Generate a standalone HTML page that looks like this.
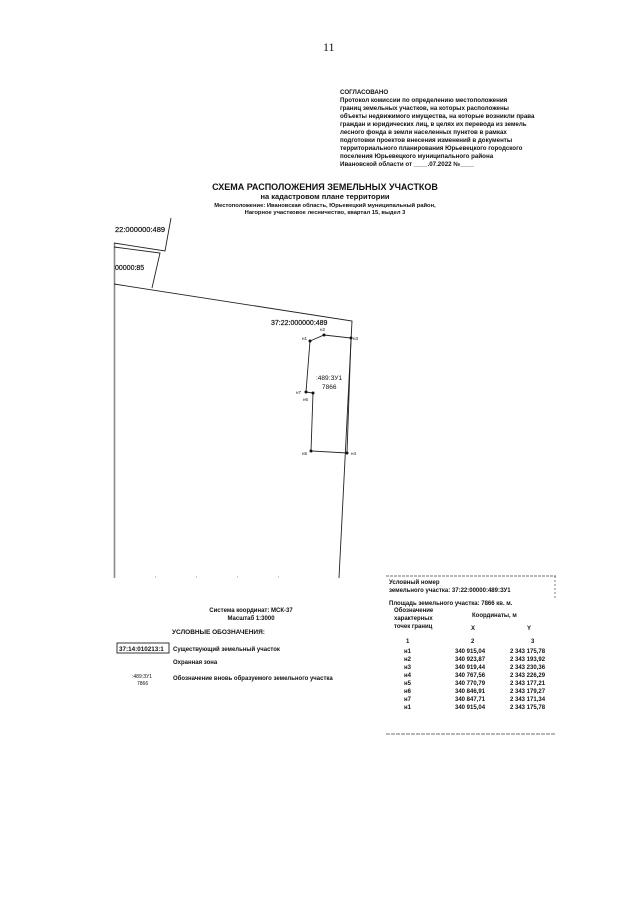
<!DOCTYPE html>
<html><head><meta charset="utf-8"><style>
html,body{margin:0;padding:0;background:#fff;}
svg{display:block}
text{font-family:"Liberation Sans",sans-serif;fill:#111}
</style></head><body>
<svg width="640" height="905" viewBox="0 0 640 905" xmlns="http://www.w3.org/2000/svg">
<text x="323" y="51" style="font-family:'Liberation Serif',serif" font-size="12">11</text>
<g font-size="6.2" font-weight="bold">
<text x="340" y="94">СОГЛАСОВАНО</text>
<text x="340" y="102">Протокол комиссии по определению местоположения</text>
<text x="340" y="110">границ земельных участков, на которых расположены</text>
<text x="340" y="118">объекты недвижимого имущества, на которые возникли права</text>
<text x="340" y="126">граждан и юридических лиц, в целях их перевода из земель</text>
<text x="340" y="134">лесного фонда в земли населенных пунктов в рамках</text>
<text x="340" y="142">подготовки проектов внесения изменений в документы</text>
<text x="340" y="150">территориального планирования Юрьевецкого городского</text>
<text x="340" y="158">поселения Юрьевецкого муниципального района</text>
<text x="340" y="166">Ивановской области от ____.07.2022 №____</text>
</g>
<text x="325" y="190" font-size="9" font-weight="bold" text-anchor="middle">СХЕМА РАСПОЛОЖЕНИЯ ЗЕМЕЛЬНЫХ УЧАСТКОВ</text>
<text x="325" y="199" font-size="7.5" font-weight="bold" text-anchor="middle">на кадастровом плане территории</text>
<text x="325" y="207" font-size="5.8" font-weight="bold" text-anchor="middle">Местоположение: Ивановская область, Юрьевецкий муниципальный район,</text>
<text x="325" y="214" font-size="5.8" font-weight="bold" text-anchor="middle">Нагорное участковое лесничество, квартал 15, выдел 3</text>

<g stroke="#222" fill="none" stroke-width="0.9">
<line x1="114.5" y1="243" x2="114.5" y2="578" stroke="#888" stroke-width="1.6"/>
<polyline points="171,218 165,251 114,243"/>
<polyline points="114,247 160,253 152,288"/>
<polyline points="114,284 352,321 339,578"/>
<polygon points="310,341 324,335 351,338 347,453 311,451 313,393 306,392"/>
<line x1="114" y1="577" x2="300" y2="577" stroke="#999" stroke-dasharray="1,40" stroke-width="1"/>
</g>
<g fill="#111">
<circle cx="310" cy="341" r="1.5"/><circle cx="324" cy="335" r="1.5"/><circle cx="351" cy="338" r="1.5"/>
<circle cx="347" cy="453" r="1.5"/><circle cx="311" cy="451" r="1.5"/><circle cx="313" cy="393" r="1.5"/><circle cx="306" cy="392" r="1.5"/>
</g>
<g stroke="#111" stroke-width="0.2">
<text x="115" y="232" font-size="7.5">22:000000:489</text>
<text x="115" y="270" font-size="7">00000:85</text>
<text x="271" y="325" font-size="7">37:22:000000:489</text>
</g>
<g font-size="4.5">
<text x="320" y="331">н2</text><text x="302" y="340">н1</text><text x="353" y="340">н3</text>
<text x="296" y="394">н7</text><text x="303" y="401">н6</text>
<text x="302" y="455">н5</text><text x="351" y="455">н4</text>
</g>
<text x="316" y="380" font-size="6.5">:489:ЗУ1</text>
<text x="322" y="389" font-size="6.5">7866</text>

<text x="251" y="612" font-size="6" font-weight="bold" text-anchor="middle">Система координат: МСК-37</text>
<text x="251" y="620" font-size="6" font-weight="bold" text-anchor="middle">Масштаб 1:3000</text>
<text x="172" y="634" font-size="6.5" font-weight="bold">УСЛОВНЫЕ ОБОЗНАЧЕНИЯ:</text>
<rect x="117" y="643" width="52" height="10" fill="none" stroke="#222" stroke-width="0.9"/>
<text x="119" y="651" font-size="6.3" font-weight="bold">37:14:010213:1</text>
<text x="173" y="651" font-size="6" font-weight="bold">Существующий земельный участок</text>
<text x="173" y="664" font-size="6" font-weight="bold">Охранная зона</text>
<text x="132" y="678" font-size="5">:489:ЗУ1</text>
<text x="137" y="685" font-size="5">7866</text>
<text x="173" y="680" font-size="6" font-weight="bold">Обозначение вновь образуемого земельного участка</text>

<g stroke="#444" stroke-width="0.7" fill="none">
<line x1="386" y1="576" x2="556" y2="576" stroke-dasharray="3,1"/>
<line x1="386" y1="734" x2="556" y2="734" stroke-dasharray="4,1"/>
<line x1="555" y1="576" x2="555" y2="600" stroke-dasharray="2,2"/>
</g>
<g font-size="6" font-weight="bold">
<text x="389" y="584">Условный номер</text>
<text x="389" y="592">земельного участка:   37:22:00000:489:ЗУ1</text>
<text x="389" y="605">Площадь земельного участка:  7866 кв. м.</text>
<text x="394" y="612">Обозначение</text>
<text x="394" y="620">характерных</text>
<text x="394" y="628">точек границ</text>
<text x="472" y="617">Координаты, м</text>
<text x="471" y="630">X</text><text x="527" y="630">Y</text>
<text x="406" y="643">1</text><text x="471" y="643">2</text><text x="531" y="643">3</text>
</g>
<g font-size="6" font-weight="bold">
<text x="404" y="653">н1</text><text x="455" y="653">340 915,04</text><text x="510" y="653">2 343 175,78</text>
<text x="404" y="661">н2</text><text x="455" y="661">340 923,87</text><text x="510" y="661">2 343 193,92</text>
<text x="404" y="669">н3</text><text x="455" y="669">340 919,44</text><text x="510" y="669">2 343 230,36</text>
<text x="404" y="677">н4</text><text x="455" y="677">340 767,56</text><text x="510" y="677">2 343 226,29</text>
<text x="404" y="685">н5</text><text x="455" y="685">340 770,79</text><text x="510" y="685">2 343 177,21</text>
<text x="404" y="693">н6</text><text x="455" y="693">340 846,91</text><text x="510" y="693">2 343 179,27</text>
<text x="404" y="701">н7</text><text x="455" y="701">340 847,71</text><text x="510" y="701">2 343 171,34</text>
<text x="404" y="709">н1</text><text x="455" y="709">340 915,04</text><text x="510" y="709">2 343 175,78</text>
</g>
</svg>
</body></html>
